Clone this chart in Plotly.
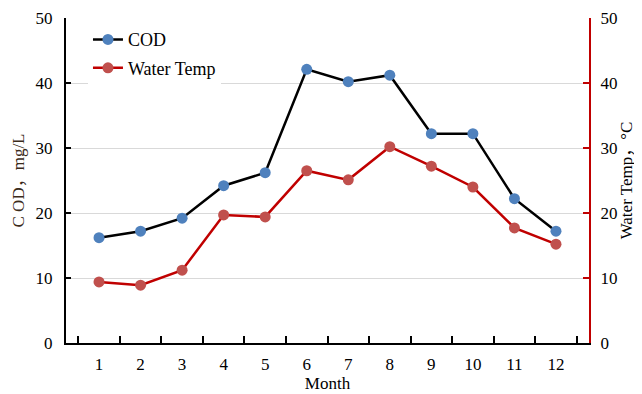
import plotly.graph_objects as go

months = ["1", "2", "3", "4", "5", "6", "7", "8", "9", "10", "11", "12"]
cod = [16.2, 17.2, 19.2, 24.2, 26.2, 42.1, 40.2, 41.2, 32.2, 32.2, 22.2, 17.2]
water_temp = [9.4, 8.9, 11.2, 19.7, 19.4, 26.5, 25.1, 30.2, 27.2, 24.0, 17.7, 15.2]
y_ticks = [0, 10, 20, 30, 40, 50]

FONT = "Times New Roman, Liberation Serif, Noto Sans CJK SC, serif"
RED = "#C00000"

fig = go.Figure()
fig.add_trace(go.Scatter(
    x=months, y=cod, name="COD", mode="lines+markers",
    line=dict(color="black", width=2.5),
    marker=dict(color="#4F81BD", size=11),
    legendgroup="a", yaxis="y",
))
fig.add_trace(go.Scatter(
    x=months, y=water_temp, name="Water Temp", mode="lines+markers",
    line=dict(color=RED, width=2.5),
    marker=dict(color="#C0504D", size=11),
    legendgroup="b", yaxis="y2",
))

# page body has an 8px default margin, so the figure is sized to fit the window
fig.update_layout(
    width=634, height=386,
    margin=dict(l=58, r=53, t=10, b=51),
    paper_bgcolor="white", plot_bgcolor="white",
    font=dict(family=FONT, size=17, color="black"),
    showlegend=True,
    legend=dict(
        x=0.042, y=0.99, xanchor="left", yanchor="top",
        bgcolor="white", borderwidth=0,
        font=dict(family=FONT, size=18, color="black"),
        tracegroupgap=2, traceorder="grouped",
    ),
    xaxis=dict(
        type="category", tickson="boundaries", automargin=False,
        ticks="inside", ticklen=7, tickwidth=1.5, tickcolor="black",
        showline=True, linecolor="black", linewidth=2,
        showgrid=False, zeroline=False,
        title=dict(text="Month", font=dict(family=FONT, size=17), standoff=1),
        tickfont=dict(family=FONT, size=17),
        ticklabelstandoff=5,
    ),
    yaxis=dict(
        range=[0, 50], tickvals=y_ticks, automargin=False,
        ticks="inside", ticklen=5, tickwidth=1.5, tickcolor="black",
        showline=True, linecolor="black", linewidth=2,
        showgrid=True, gridcolor="#D9D9D9", gridwidth=1, zeroline=False,
        title=dict(text="C OD，mg/L", font=dict(family=FONT, size=17, color="#3a2a1a"), standoff=7),
        tickfont=dict(family=FONT, size=17),
        ticklabelstandoff=8,
    ),
    yaxis2=dict(
        range=[0, 50], tickvals=y_ticks, overlaying="y", side="right", automargin=False,
        ticks="inside", ticklen=6, tickwidth=1.5, tickcolor=RED,
        showline=True, linecolor=RED, linewidth=2,
        showgrid=False, zeroline=False,
        title=dict(text="Water Temp，°C", font=dict(family=FONT, size=17), standoff=4),
        tickfont=dict(family=FONT, size=17),
        ticklabelstandoff=6,
    ),
)

fig.write_html("out.html")
